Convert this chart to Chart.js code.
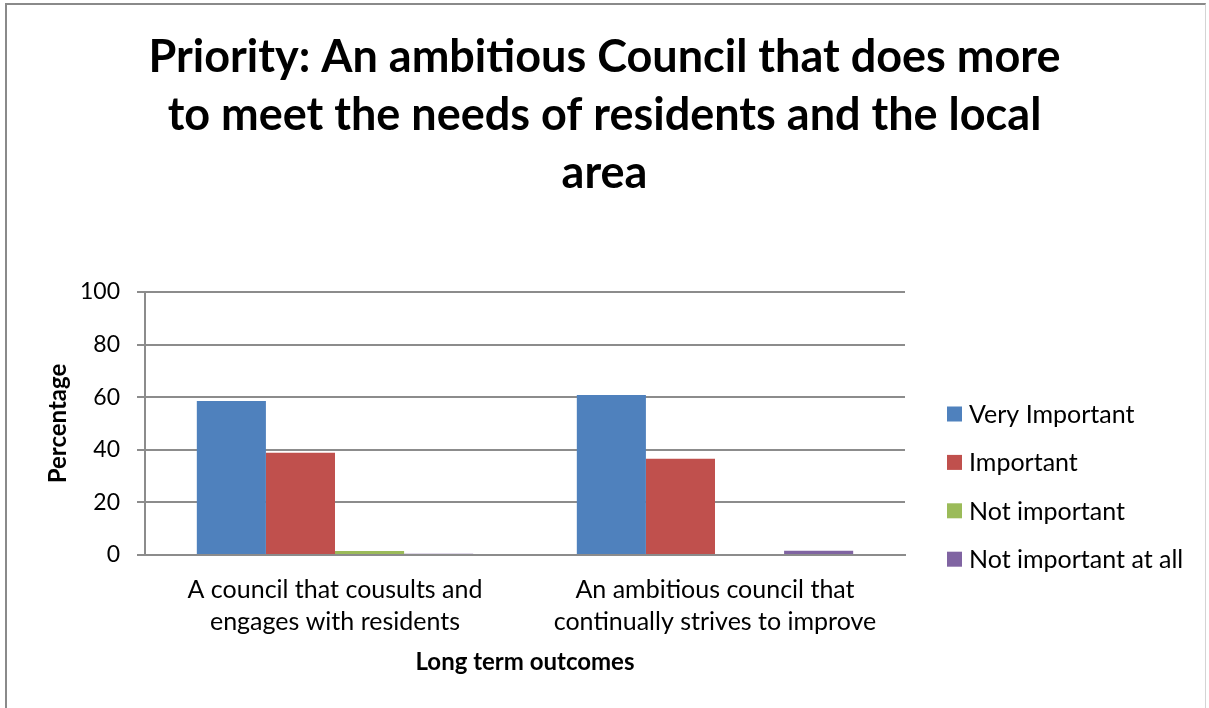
<!DOCTYPE html>
<html>
<head>
<meta charset="utf-8">
<script src="https://cdn.jsdelivr.net/npm/chart.js@4.4.1/dist/chart.umd.min.js"></script>
<style>
  html, body { margin: 0; padding: 0; background: #fff; overflow: hidden; }
  #wrap { position: relative; width: 1209px; height: 708px; }
  #frame { position: absolute; left: 5px; top: 3px; width: 1201px; height: 800px;
           border-top: 2px solid #8a8a8a; border-left: 2px solid #8a8a8a; border-right: 1px solid #d4d4d4; box-sizing: border-box; }
  canvas { position: absolute; left: 0; top: 0; }
</style>
</head>
<body>
<div id="wrap">
  <div id="frame"></div>
  <canvas id="c" width="1209" height="708"></canvas>
</div>
<script>
const titleLines = ["Priority: An ambitious Council that does more", "to meet the needs of residents and the local", "area"];
const categories = [["A council that cousults and", "engages with residents"], ["An ambitious council that", "continually strives to improve"]];
const seriesNames = ["Very Important", "Important", "Not important", "Not important at all"];
const veryImportant = [58.6, 60.8];
const important = [38.9, 36.6];
const notImportant = [1.5, 0.4];
const notImportantAtAll = [0.5, 1.6];
const yTicks = [0, 20, 40, 60, 80, 100];
const seriesColors = ["#4F81BD", "#C0504D", "#9BBB59", "#8064A2"];

const FONT = "Lato, 'Noto Sans', sans-serif";
const GRID = "#8c8c8c";

const values = [veryImportant, important, notImportant, notImportantAtAll];
const datasets = seriesNames.map((n, i) => ({
  label: n,
  data: values[i],
  backgroundColor: seriesColors[i],
  borderWidth: 0,
  barPercentage: 1,
  categoryPercentage: 4 / 5.5
}));

const legendPlugin = {
  id: 'customLegend',
  afterDraw(chart) {
    const ctx = chart.ctx;
    ctx.save();
    ctx.font = "25px " + FONT;
    ctx.textBaseline = 'middle';
    ctx.textAlign = 'left';
    chart.data.datasets.forEach((ds, i) => {
      const y = 414 + i * 48.4;
      ctx.fillStyle = ds.backgroundColor;
      ctx.fillRect(947, y - 7.5, 15, 15);
      ctx.fillStyle = '#000';
      ctx.fillText(ds.label, 969, y + 1);
    });
    ctx.restore();
  }
};

new Chart(document.getElementById('c'), {
  type: 'bar',
  data: { labels: categories, datasets },
  plugins: [legendPlugin],
  options: {
    responsive: false,
    animation: false,
    events: [],
    layout: { padding: 0 },
    plugins: {
      legend: { display: false },
      tooltip: { enabled: false },
      title: {
        display: true,
        text: titleLines,
        color: '#000',
        font: { family: FONT, size: 45, weight: 'bold', lineHeight: '58px' },
        padding: { top: 28, bottom: 90 }
      }
    },
    scales: {
      x: {
        afterFit(scale) { scale.height = 153; },
        grid: { display: false, drawTicks: false },
        border: { display: true, color: GRID, width: 2 },
        ticks: { color: '#000', font: { family: FONT, size: 25, lineHeight: '32px' }, padding: 19, maxRotation: 0, autoSkip: false },
        title: { display: true, text: 'Long term outcomes', color: '#000', font: { family: FONT, size: 24, weight: 'bold', lineHeight: '24px' }, padding: { top: 0, bottom: 34 } }
      },
      y: {
        min: 0, max: 100,
        afterFit(scale) { scale.width = 145; },
        afterBuildTicks(scale) { scale.ticks = yTicks.map(v => ({ value: v })); },
        grid: { color: GRID, lineWidth: 2, drawTicks: true, tickLength: 8, tickColor: GRID },
        border: { display: true, color: GRID, width: 2 },
        ticks: { color: '#000', font: { family: FONT, size: 23 }, padding: 17 },
        title: { display: true, text: 'Percentage', color: '#000', font: { family: FONT, size: 24, weight: 'bold', lineHeight: '24px' }, padding: { top: 46, bottom: 0 } }
      },
      side: {
        position: 'right',
        display: true,
        afterFit(scale) { scale.width = 304; },
        grid: { display: false, drawTicks: false },
        border: { display: false },
        ticks: { display: false }
      }
    }
  }
});
</script>
</body>
</html>
